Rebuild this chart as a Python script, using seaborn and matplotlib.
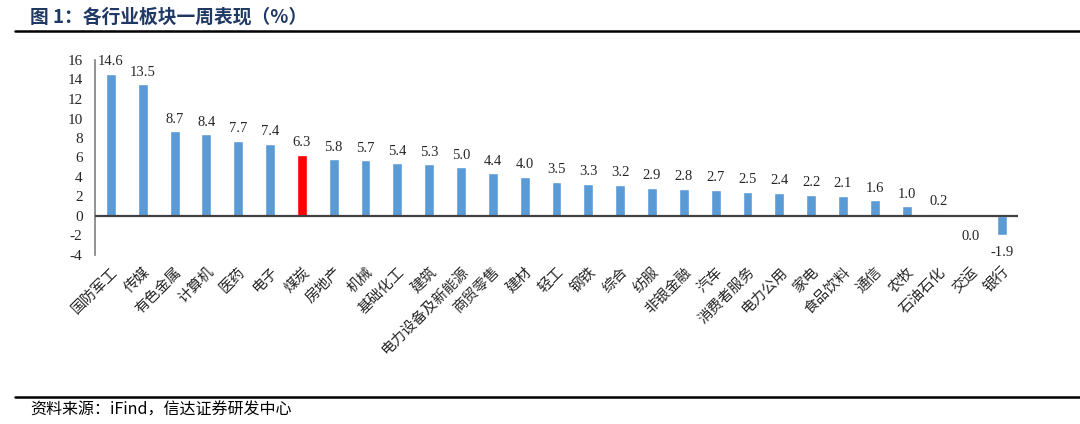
import matplotlib
matplotlib.use("Agg")
import matplotlib.pyplot as plt
import seaborn as sns
import pandas as pd

categories = ["国防军工", "传媒", "有色金属", "计算机", "医药", "电子", "煤炭", "房地产", "机械",
              "基础化工", "建筑", "电力设备及新能源", "商贸零售", "建材", "轻工", "钢铁", "综合",
              "纺服", "非银金融", "汽车", "消费者服务", "电力公用", "家电", "食品饮料", "通信",
              "农牧", "石油石化", "交运", "银行"]
values = [14.6, 13.5, 8.7, 8.4, 7.7, 7.4, 6.3, 5.8, 5.7, 5.4, 5.3, 5.0, 4.4, 4.0, 3.5, 3.3, 3.2,
          2.9, 2.8, 2.7, 2.5, 2.4, 2.2, 2.1, 1.6, 1.0, 0.2, -0.04, -1.9]
highlight = "煤炭"
yticks = [-4, -2, 0, 2, 4, 6, 8, 10, 12, 14, 16]
title = "图 1：各行业板块一周表现（%）"
source = "资料来源：iFind，信达证券研发中心"

sns.set_style("white")
plt.rcParams["font.family"] = ["Liberation Serif", "Noto Sans CJK SC", "DejaVu Sans"]

df = pd.DataFrame({"cat": categories, "val": values})
blue = "#5B9BD5"
red = "#FF0000"
palette = {c: (red if c == highlight else blue) for c in categories}

fig = plt.figure(figsize=(10.8, 4.24), dpi=100)
ax = fig.add_axes([95 / 1080, 1 - 255 / 424, (1018 - 95) / 1080, 195 / 424])

sns.barplot(data=df, x="cat", y="val", hue="cat", palette=palette, legend=False,
            width=0.31, ax=ax, saturation=1)

ax.set_xlim(-0.5, len(categories) - 0.5)
ax.set_ylim(-4, 16)
ax.set_yticks(yticks)
ax.set_yticklabels([str(t) for t in yticks], fontsize=11, family="Liberation Serif")
ax.tick_params(axis="y", length=0, pad=9)
ax.tick_params(axis="x", length=0, pad=7)
ax.set_xticks(range(len(categories)))
ax.set_xticklabels(categories, rotation=45, ha="right", rotation_mode="anchor",
                   fontsize=10.5, family=["Noto Sans CJK SC", "DejaVu Sans"])
ax.set_xlabel("")
ax.set_ylabel("")

for s in ["top", "right", "bottom"]:
    ax.spines[s].set_visible(False)
ax.spines["left"].set_color("#7f7f7f")
ax.spines["left"].set_linewidth(1.2)
ax.axhline(0, color="#404040", lw=1.6, zorder=5)

for i, v in enumerate(values):
    txt = f"{v:.1f}"
    if txt == "-0.0":
        txt = "0.0"
    if v >= 0:
        ax.annotate(txt, (i, v), xytext=(0, 4), textcoords="offset points",
                    ha="center", va="bottom", fontsize=10.5, family="Liberation Serif", color="#262626")
    else:
        ax.annotate(txt, (i, v), xytext=(0, -10 if v > -0.5 else -8), textcoords="offset points",
                    ha="center", va="top", fontsize=10.5, family="Liberation Serif", color="#262626")

fig.text(30 / 1080, 1 - 17 / 424, title, fontsize=13.5, fontweight="bold", color="#1F3864",
         va="center", ha="left", family=["Noto Sans CJK SC", "DejaVu Sans"])
fig.add_artist(plt.Line2D([15 / 1080, 1.0], [1 - 31 / 424, 1 - 31 / 424], color="black", lw=1.8))
fig.add_artist(plt.Line2D([15 / 1080, 1.0], [1 - 397 / 424, 1 - 397 / 424], color="black", lw=1.8))
fig.text(30 / 1080, 1 - 410 / 424, source, fontsize=11.5, style="italic", color="#000000",
         va="center", ha="left", family=["Noto Sans CJK SC", "DejaVu Sans"])

fig.savefig("out.png", dpi=100)
